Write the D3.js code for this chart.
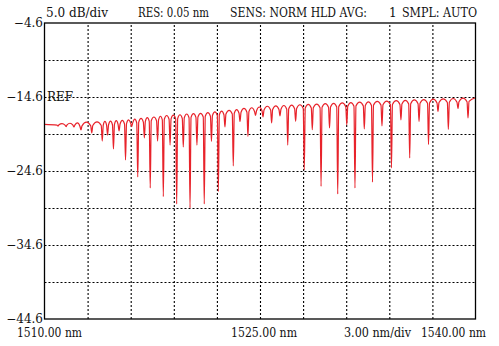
<!DOCTYPE html>
<html>
<head>
<meta charset="utf-8">
<script src="https://cdn.jsdelivr.net/npm/d3@7"></script>
<style>
html,body{margin:0;padding:0;background:#fff;}
svg{display:block;}
text{font-family:"DejaVu Serif","Liberation Serif",serif;fill:#111;}
</style>
</head>
<body>
<svg id="chart" width="499" height="346"></svg>
<script>
// ---- data ----
const xDomain = [1510, 1540];
const yDomain = [-44.6, -4.6];
const xGridValues = [1513, 1516, 1519, 1522, 1525, 1528, 1531, 1534, 1537];
const yGridValues = [-9.6, -14.6, -19.6, -24.6, -29.6, -34.6, -39.6];
const yTickLabels = [-4.6, -14.6, -24.6, -34.6, -44.6];
const headerTexts = ["5.0 dB/div", "RES: 0.05 nm", "SENS: NORM HLD AVG:", "1", "SMPL: AUTO"];
const footerTexts = ["1510.00 nm", "1525.00 nm", "3.00 nm/div", "1540.00 nm"];

// notch minima (wavelength nm, power dBm)
const dipWavelength = [
  1510.94, 1511.50, 1512.05, 1512.54, 1513.29, 1514.02, 1514.39, 1514.80, 1515.19, 1515.64,
  1516.07, 1516.49, 1516.95, 1517.36, 1517.87, 1518.27, 1518.74, 1519.20, 1519.66, 1520.13,
  1520.61, 1521.12, 1521.62, 1522.10, 1522.56, 1523.14, 1523.61, 1524.16, 1524.69, 1525.21,
  1525.81, 1526.39, 1526.93, 1527.48, 1528.08, 1528.64, 1529.25, 1529.84, 1530.41, 1531.04,
  1531.61, 1532.26, 1532.83, 1533.49, 1534.15, 1534.81, 1535.42, 1536.07, 1536.73, 1537.39,
  1538.11, 1538.78, 1539.48
];
const dipPower = [
  -18.52, -18.59, -18.65, -19.06, -19.46, -20.55, -19.74, -21.63, -19.19, -23.11,
  -18.59, -25.41, -20.14, -26.90, -20.55, -28.05, -21.09, -29.06, -21.36, -29.60,
  -21.09, -29.06, -20.61, -27.37, -18.65, -23.92, -17.91, -19.94, -17.10, -17.30,
  -18.11, -17.17, -21.09, -17.88, -24.46, -19.02, -26.67, -18.79, -27.71, -18.38,
  -26.90, -18.92, -26.09, -18.52, -24.19, -17.71, -22.84, -17.91, -21.02, -16.56,
  -18.99, -16.15, -17.44
];
// fringe maxima between notches (one before first notch, one after last)
const peakPower = [
  -18.30, -18.20, -18.15, -18.10, -18.00, -17.95, -17.90, -17.85, -17.80, -17.75,
  -17.70, -17.60, -17.50, -17.40, -17.30, -17.20, -17.10, -17.05, -17.00, -16.90,
  -16.85, -16.80, -16.70, -16.60, -16.50, -16.40, -16.30, -16.15, -16.05, -15.95,
  -15.85, -15.80, -15.75, -15.70, -15.65, -15.60, -15.55, -15.50, -15.45, -15.40,
  -15.35, -15.30, -15.25, -15.20, -15.15, -15.10, -15.05, -15.00, -14.95, -14.90,
  -14.85, -14.80, -14.75, -14.70
];

// ---- drawing ----
const svg = d3.select("#chart");
const plotL = 44.5, plotR = 475.5, plotT = 23, plotB = 319;
const x = d3.scaleLinear().domain(xDomain).range([plotL, plotR]);
const y = d3.scaleLinear().domain(yDomain).range([plotB, plotT]);

// grid
const gGrid = svg.append("g");
gGrid.append("g")
  .attr("transform", `translate(0,${plotB})`)
  .call(d3.axisBottom(x).tickValues(xGridValues).tickSize(-(plotB - plotT)).tickFormat(""))
  .call(g => g.select(".domain").remove())
  .call(g => g.selectAll("line").attr("stroke", "#000").attr("stroke-width", 1.1).attr("stroke-dasharray", "2,2"));
gGrid.append("g")
  .attr("transform", `translate(${plotL},0)`)
  .call(d3.axisLeft(y).tickValues(yGridValues).tickSize(-(plotR - plotL)).tickFormat(""))
  .call(g => g.select(".domain").remove())
  .call(g => g.selectAll("line").attr("stroke", "#000").attr("stroke-width", 1.1).attr("stroke-dasharray", "2,2"));

// trace
const pts = [];
pts.push([xDomain[0], peakPower[0]]);
const sw = 0.07;
for (let i = 0; i < dipWavelength.length; i++) {
  const wl = dipWavelength[i], p = dipPower[i];
  const pl = peakPower[i], pr = peakPower[i + 1];
  const shL = Math.max(p, pl - Math.min(0.5, (pl - p) * 0.5));
  const shR = Math.max(p, pr - Math.min(0.5, (pr - p) * 0.5));
  pts.push([wl - sw, shL]);
  pts.push([wl, p]);
  pts.push([wl + sw, shR]);
  const next = i + 1 < dipWavelength.length ? dipWavelength[i + 1] : xDomain[1];
  const mid = i + 1 < dipWavelength.length ? (wl + next) / 2 : xDomain[1];
  pts.push([mid, pr]);
}
const line = d3.line().x(d => x(d[0])).y(d => y(d[1])).curve(d3.curveMonotoneX);
svg.append("path")
  .attr("d", line(pts))
  .attr("fill", "none")
  .attr("stroke", "#e8232b")
  .attr("stroke-width", 1.2)
  .attr("stroke-linejoin", "round");

// frame
svg.append("rect")
  .attr("x", plotL).attr("y", plotT)
  .attr("width", plotR - plotL).attr("height", plotB - plotT)
  .attr("fill", "none").attr("stroke", "#000").attr("stroke-width", 1.3);

// y labels
const yAxis = svg.append("g")
  .attr("transform", `translate(${plotL - 1.5},0)`)
  .call(d3.axisLeft(y).tickValues(yTickLabels).tickSize(0).tickPadding(0)
    .tickFormat(d => (d < 0 ? "\u2212" : "") + Math.abs(d).toFixed(1)));
yAxis.select(".domain").remove();
yAxis.selectAll("text")
  .attr("font-family", "DejaVu Serif, serif").attr("font-size", 12)
  .attr("fill", "#111").attr("dy", "0.32em");

// REF label
svg.append("text").attr("x", 47).attr("y", y(-14.6) + 4)
  .attr("font-size", 12).text("REF");

// header
const headerX = [46, 138, 230, 389, 402];
const headerW = [62, 71, 137, 4, 75];
headerTexts.forEach((t, i) => {
  const el = svg.append("text").attr("x", headerX[i]).attr("y", 16.5).attr("font-size", 12).text(t);
  if (headerW[i] > 10) el.attr("textLength", headerW[i]).attr("lengthAdjust", "spacingAndGlyphs");
});

// footer
const footerX = [17, 231, 344, 421];
const footerW = [65, 66, 67, 65];
footerTexts.forEach((t, i) => {
  svg.append("text").attr("x", footerX[i]).attr("y", 336.5).attr("font-size", 12)
    .attr("textLength", footerW[i]).attr("lengthAdjust", "spacingAndGlyphs").text(t);
});
</script>
</body>
</html>
